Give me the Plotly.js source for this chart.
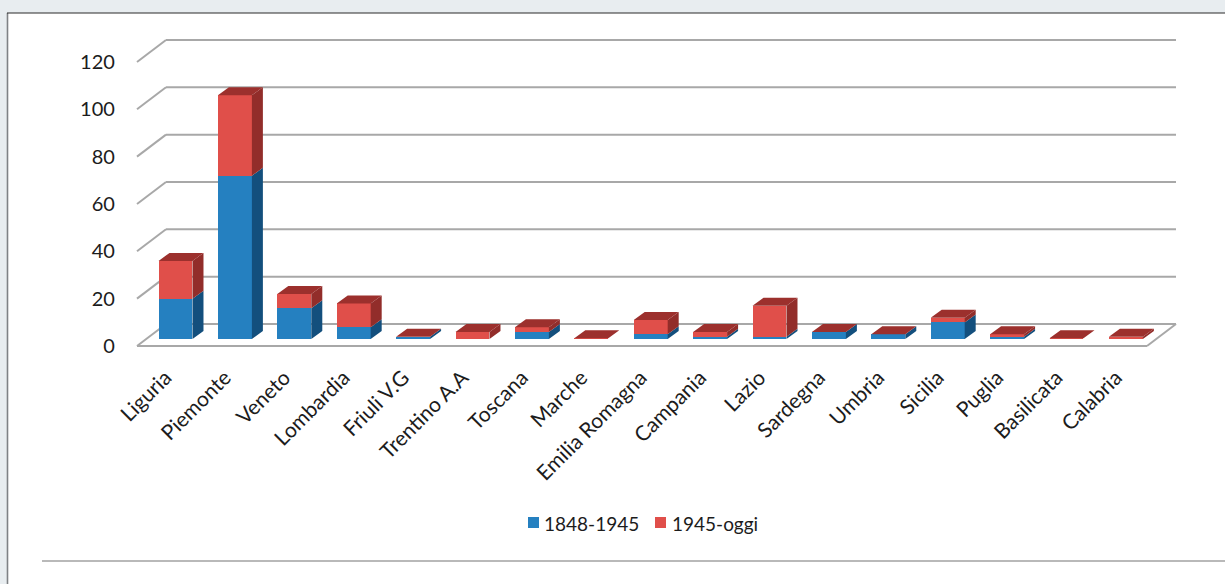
<!DOCTYPE html>
<html>
<head>
<meta charset="utf-8">
<script src="https://cdn.plot.ly/plotly-3.0.1.min.js"></script>
<style>html,body{margin:0;padding:0;background:#e8edf0;overflow:hidden}#chart{width:1225px;height:584px}</style>
</head>
<body>
<div id="chart"></div>
<script>
// Regions and counts per period
const regions = ["Liguria","Piemonte","Veneto","Lombardia","Friuli V.G","Trentino A.A","Toscana","Marche","Emilia Romagna","Campania","Lazio","Sardegna","Umbria","Sicilia","Puglia","Basilicata","Calabria"];
const period1 = [17,69,13,5,1,0,3,0,2,1,1,3,2,7,1,0,0];
const period2 = [16,34,6,10,0,3,2,0.3,6,2,13,0,0,2,1,0.3,1];
const seriesNames = ["1848-1945","1945-oggi"];
const yTicks = [0,20,40,60,80,100,120];

// Page scale: pixels per category and per unit of value
const W = 1225, H = 584;
const stepPx = 59.4, unitPx = 2.367, originX = 175.5, zeroY = 346;
const xRange = [-0.7, 17], yRange = [-3, 131];

// Oblique projection of the 3D look, in axis units
const floorDx = 29 / stepPx, floorDy = 22 / unitPx;   // full floor depth
const barDx = 11 / stepPx, barDy = 8 / unitPx;        // depth of one bar
const liftDy = 7 / unitPx, barHalf = 0.286;           // bars stand inside the floor
const floorLeft = -38.5 / stepPx, floorRight = 971.5 / stepPx;

const colors = {blue:"#2580c0", blueSide:"#134f7d", red:"#e04f4a", redSide:"#922d2a", redTop:"#9c302d", grid:"#a8a8a8", text:"#1c1c1c"};

const xs = regions.map((_, i) => i);
const base1 = period1.map(() => liftDy);
const base2 = period1.map(v => liftDy + v);

// Closed polygons for the side and top faces, separated by nulls
function faces(build) {
  const px = [], py = [];
  xs.forEach(i => {
    build(i).forEach(p => { px.push(p[0]); py.push(p[1]); });
    px.push(null); py.push(null);
  });
  return {x: px, y: py};
}
const side = (i, lo, hi) => {
  const r = i + barHalf;
  return [[r, lo],[r + barDx, lo + barDy],[r + barDx, hi + barDy],[r, hi],[r, lo]];
};
const blueSide = faces(i => side(i, liftDy, liftDy + period1[i]));
const redSide = faces(i => side(i, liftDy + period1[i], liftDy + period1[i] + period2[i]));
const redTop = faces(i => {
  const t = liftDy + period1[i] + period2[i], l = i - barHalf, r = i + barHalf;
  return [[l, t],[r, t],[r + barDx, t + barDy],[l + barDx, t + barDy],[l, t]];
});
const face = (d, color) => ({x: d.x, y: d.y, type: "scatter", mode: "lines", fill: "toself", fillcolor: color,
  line: {width: 0, color: color}, hoverinfo: "skip", showlegend: false});

const data = [
  {x: xs, y: period1, base: base1, type: "bar", name: seriesNames[0], width: barHalf * 2, marker: {color: colors.blue}},
  {x: xs, y: period2, base: base2, type: "bar", name: seriesNames[1], width: barHalf * 2, marker: {color: colors.red}},
  face(blueSide, colors.blueSide),
  face(redSide, colors.redSide),
  face(redTop, colors.redTop)
];

// Page frame, rule under the chart, then floor and back-wall gridlines
const px = v => v / W, py = v => 1 - v / H;
const paperLine = (x0, y0, x1, y1, color, width) => ({type: "line", xref: "paper", yref: "paper", layer: "below",
  x0: px(x0), y0: py(y0), x1: px(x1), y1: py(y1), line: {color: color, width: width}});
const dataLine = (x0, y0, x1, y1) => ({type: "line", xref: "x", yref: "y", layer: "below",
  x0: x0, y0: y0, x1: x1, y1: y1, line: {color: colors.grid, width: 2}});
const shapes = [
  {type: "rect", xref: "paper", yref: "paper", layer: "below", x0: px(7), x1: 1, y0: 0, y1: py(13), fillcolor: "#ffffff", line: {width: 0}},
  paperLine(7.5, 13, 7.5, H, "#7f8285", 1.6),
  paperLine(7, 13, W, 13, "#2b2b2b", 1.2),
  paperLine(42, 561, W, 561, "#a2a2a2", 1.3)
];
yTicks.forEach(v => {
  shapes.push(dataLine(floorLeft, v, floorLeft + floorDx, v + floorDy));
  shapes.push(dataLine(floorLeft + floorDx, v + floorDy, floorRight + floorDx, v + floorDy));
});
shapes.push(dataLine(floorLeft, 0, floorRight, 0));
shapes.push(dataLine(floorRight, 0, floorRight + floorDx, floorDy));

// Legend row: square swatch followed by its label
const legendY = 523;
const legendItems = [{swatch: 528, text: 542, color: colors.blue, name: seriesNames[0]},
                     {swatch: 655, text: 670, color: colors.red, name: seriesNames[1]}];
legendItems.forEach(it => shapes.push({type: "rect", xref: "paper", yref: "paper", layer: "below",
  x0: px(it.swatch), x1: px(it.swatch + 11), y0: py(legendY + 5), y1: py(legendY - 6), fillcolor: it.color, line: {width: 0}}));
const annotations = legendItems.map(it => ({xref: "paper", yref: "paper", x: px(it.text), y: py(legendY), xanchor: "left", yanchor: "middle",
  showarrow: false, text: it.name, font: {family: "Lato, sans-serif", size: 19, color: colors.text}}));

const layout = {
  width: W, height: H,
  margin: {l: 0, r: 0, t: 0, b: 0, pad: 0},
  paper_bgcolor: "#e8edf0", plot_bgcolor: "rgba(0,0,0,0)",
  barmode: "overlay", showlegend: false, bargap: 0,
  font: {family: "Lato, sans-serif", color: colors.text},
  xaxis: {
    domain: [(originX + xRange[0] * stepPx) / W, (originX + xRange[1] * stepPx) / W],
    range: xRange, tickmode: "array", tickvals: xs, ticktext: regions, tickangle: -45,
    ticklabelshift: -10,
    showgrid: false, zeroline: false, showline: false, ticks: "outside", ticklen: 3, tickcolor: "rgba(0,0,0,0)",
    tickfont: {family: "Lato, sans-serif", size: 21, color: colors.text}, fixedrange: true
  },
  yaxis: {
    domain: [1 - (zeroY - yRange[0] * unitPx) / H, 1 - (zeroY - yRange[1] * unitPx) / H],
    range: yRange, tickmode: "array", tickvals: yTicks,
    showgrid: false, zeroline: false, showline: false, ticks: "outside", ticklen: 14, tickcolor: "rgba(0,0,0,0)",
    tickfont: {family: "Lato, sans-serif", size: 20, color: colors.text}, fixedrange: true
  },
  shapes: shapes,
  annotations: annotations
};

Plotly.newPlot("chart", data, layout, {displayModeBar: false, staticPlot: true});
</script>
</body>
</html>
